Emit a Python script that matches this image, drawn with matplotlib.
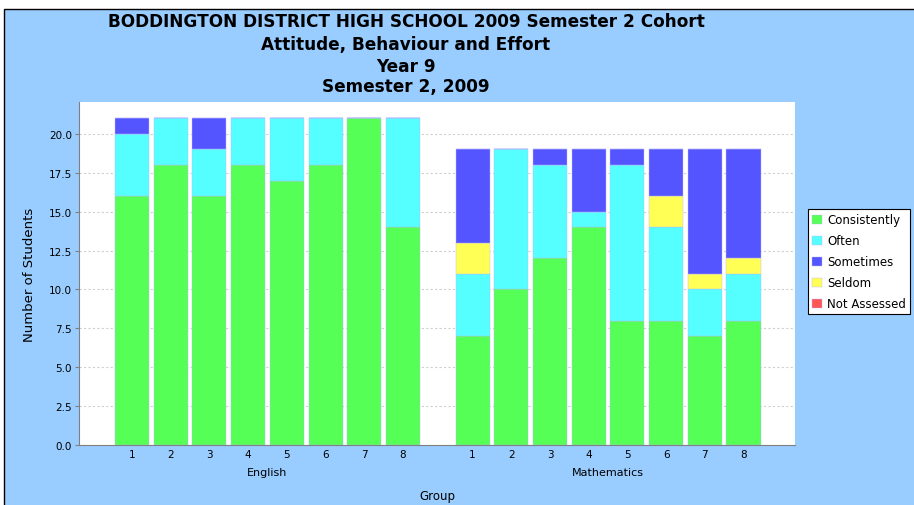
import numpy as np
import matplotlib
matplotlib.use("Agg")
import matplotlib.pyplot as plt
from matplotlib.patches import Rectangle

groups = ["1", "2", "3", "4", "5", "6", "7", "8"]
subjects = ["English", "Mathematics"]
series = ["Consistently", "Often", "Sometimes", "Seldom", "Not Assessed"]
colors = {"Consistently": "#55FF55", "Often": "#55FFFF", "Sometimes": "#5555FF",
          "Seldom": "#FFFF55", "Not Assessed": "#FF5555"}

english = {
    "Consistently": [16, 18, 16, 18, 17, 18, 21, 14],
    "Often":        [4, 3, 3, 3, 4, 3, 0, 7],
    "Seldom":       [0, 0, 0, 0, 0, 0, 0, 0],
    "Sometimes":    [1, 0, 2, 0, 0, 0, 0, 0],
    "Not Assessed": [0, 0, 0, 0, 0, 0, 0, 0],
}
maths = {
    "Consistently": [7, 10, 12, 14, 8, 8, 7, 8],
    "Often":        [4, 9, 6, 1, 10, 6, 3, 3],
    "Seldom":       [2, 0, 0, 0, 0, 2, 1, 1],
    "Sometimes":    [6, 0, 1, 4, 1, 3, 8, 7],
    "Not Assessed": [0, 0, 0, 0, 0, 0, 0, 0],
}
stack_order = ["Consistently", "Often", "Seldom", "Sometimes", "Not Assessed"]

W, H = 914, 506
fig = plt.figure(figsize=(W / 100, H / 100), dpi=100, facecolor="white")
fig.patches.append(Rectangle((4 / W, -0.1), 1.2, (H - 10) / H + 0.1,
                             transform=fig.transFigure, facecolor="#99CCFF",
                             edgecolor="black", linewidth=1.0, zorder=-1))

ax = fig.add_axes([79 / W, 1 - 446 / H, (795 - 79) / W, (446 - 103) / H])
ax.set_facecolor("white")

x_eng = np.arange(8)
x_math = np.arange(8) + 8.8
handles = {}
for xs, data in [(x_eng, english), (x_math, maths)]:
    bottom = np.zeros(8)
    for s in stack_order:
        vals = np.array(data[s], dtype=float)
        b = ax.bar(xs, vals, width=0.88, bottom=bottom, color=colors[s],
                   edgecolor="#b8b8ff", linewidth=0.3, zorder=2)
        handles[s] = b
        bottom += vals

ax.set_xlim(-1.37, 17.13)
ax.set_ylim(0, 22.05)
ax.set_yticks(np.arange(0, 21, 2.5))
ax.set_yticklabels([f"{v:.1f}" for v in np.arange(0, 21, 2.5)], fontsize=7.5)
ax.set_xticks(np.concatenate([x_eng, x_math]))
ax.set_xticklabels(groups + groups, fontsize=7.5)
ax.tick_params(axis="x", length=0, pad=3)
ax.tick_params(axis="y", length=3, color="gray", pad=2)
ax.yaxis.grid(True, linestyle=(0, (2, 2)), color="#d0d0d0", linewidth=0.8, zorder=0)
ax.set_axisbelow(True)
for sp in ["top", "right"]:
    ax.spines[sp].set_visible(False)
ax.spines["left"].set_color("gray")
ax.spines["bottom"].set_color("gray")

ax.text(x_eng.mean(), -0.079, subjects[0], transform=ax.get_xaxis_transform(),
        ha="center", va="center", fontsize=8)
ax.text(x_math.mean(), -0.079, subjects[1], transform=ax.get_xaxis_transform(),
        ha="center", va="center", fontsize=8)
fig.text(437 / W, 1 - 497 / H, "Group", ha="center", va="center", fontsize=8.5)
fig.text(30 / W, 1 - 275 / H, "Number of Students", ha="center", va="center",
         rotation=90, fontsize=9.5)

titles = ["BODDINGTON DISTRICT HIGH SCHOOL 2009 Semester 2 Cohort",
          "Attitude, Behaviour and Effort", "Year 9", "Semester 2, 2009"]
title_y = [22, 45, 67, 87]
for t, yy in zip(titles, title_y):
    fig.text(406 / W, 1 - yy / H, t, ha="center", va="center",
             fontsize=12.2, fontweight="bold")

leg = fig.legend([handles[s] for s in series], series, loc="upper left",
                 bbox_to_anchor=(808 / W, 1 - 210 / H), bbox_transform=fig.transFigure,
                 fontsize=8.5, frameon=True, fancybox=False, framealpha=1,
                 borderaxespad=0, handlelength=0.8, handleheight=0.8,
                 handletextpad=0.5, labelspacing=0.68, borderpad=0.35)
leg.get_frame().set_edgecolor("black")
leg.get_frame().set_linewidth(0.8)

fig.savefig("out.png", dpi=100)
